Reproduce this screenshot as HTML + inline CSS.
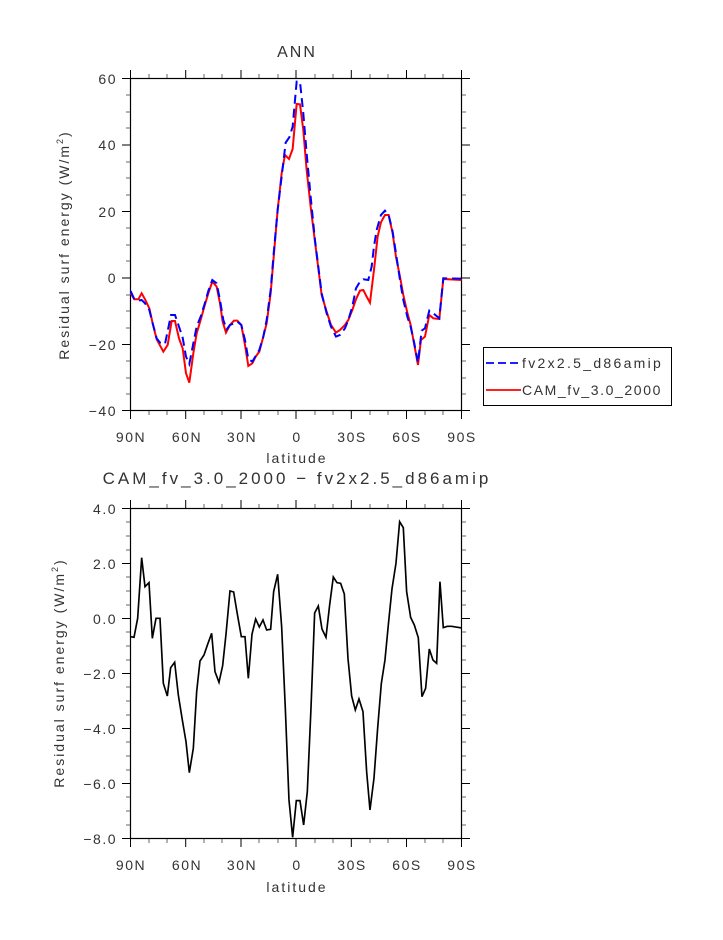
<!DOCTYPE html>
<html><head><meta charset="utf-8"><style>
body{margin:0;background:#fff}
text{font-family:"Liberation Sans",sans-serif;fill:#333}
</style></head><body>
<svg width="723" height="935" xmlns="http://www.w3.org/2000/svg">
<rect width="723" height="935" fill="#fff"/>
<text x="297" y="57" font-size="16" text-anchor="middle" letter-spacing="2">ANN</text>
<rect x="130.5" y="78.5" width="331" height="332" fill="none" stroke="#000" stroke-width="1.2"/>
<g stroke="#000" stroke-width="1">
<path d="M130.5,78v-8M185.7,78v-8M241,78v-8M296,78v-8M351.3,78v-8M406.5,78v-8M461.5,78v-8
M130.5,411v8M185.7,411v8M241,411v8M296,411v8M351.3,411v8M406.5,411v8M461.5,411v8
M130,78.5h-8M130,145h-8M130,211.5h-8M130,278h-8M130,344.5h-8M130,410.5h-8
M462,78.5h8M462,145h8M462,211.5h8M462,278h8M462,344.5h8M462,410.5h8"/>
<path stroke="#666" d="M149,78v-4M167,78v-4M204,78v-4M222,78v-4M259,78v-4M278,78v-4M315,78v-4M333,78v-4M370,78v-4M388,78v-4M425,78v-4M443,78v-4
M149,411v4M167,411v4M204,411v4M222,411v4M259,411v4M278,411v4M315,411v4M333,411v4M370,411v4M388,411v4M425,411v4M443,411v4
M130,95h-4M130,112h-4M130,128h-4M130,162h-4M130,178h-4M130,195h-4M130,228h-4M130,245h-4M130,261h-4M130,295h-4M130,311h-4M130,328h-4M130,361h-4M130,378h-4M130,394h-4
M462,95h4M462,112h4M462,128h4M462,162h4M462,178h4M462,195h4M462,228h4M462,245h4M462,261h4M462,295h4M462,311h4M462,328h4M462,361h4M462,378h4M462,394h4"/>
</g>
<g font-size="14" text-anchor="end" letter-spacing="1.5">
<text x="117" y="84">60</text><text x="117" y="150">40</text><text x="117" y="217">20</text>
<text x="117" y="283">0</text><text x="117" y="350">−20</text><text x="117" y="416">−40</text>
</g>
<g font-size="14" text-anchor="middle" letter-spacing="1.5">
<text x="131" y="442">90N</text><text x="187" y="442">60N</text><text x="242" y="442">30N</text><text x="297" y="442">0</text>
<text x="352" y="442">30S</text><text x="407" y="442">60S</text><text x="462" y="442">90S</text>
<text x="297" y="463" letter-spacing="2">latitude</text>
</g>
<text transform="translate(69,245) rotate(-90)" font-size="14" text-anchor="middle" letter-spacing="2">Residual surf energy (W/m<tspan font-size="9" dy="-6">2</tspan><tspan dy="6">)</tspan></text>
<g transform="translate(100,60) scale(0.3333)" fill="none" stroke-width="6">
<polyline stroke="#f00" points="92,700 103,718 115,718 125,700 135,718 148,745 158,790 170,838 190,875 203,855 215,783 225,783 237,835 248,865 258,940 268,968 280,880 290,820 302,780 313,740 325,700 337,665 350,680 360,730 368,785 378,818 390,795 402,782 412,782 424,795 435,855 445,918 457,910 467,890 478,875 490,830 500,790 512,700 522,580 533,450 545,340 555,285 567,297 578,267 590,132 600,133 610,210 620,330 632,440 645,545 655,625 665,705 680,755 693,795 708,818 720,810 735,795 745,780 757,750 768,718 780,692 790,690 800,710 810,728 822,630 833,530 843,487 855,465 866,465 878,520 888,590 900,650 910,705 922,758 932,795 943,855 954,915 963,840 975,830 988,765 1000,775 1018,777 1030,657 1085,660"/>
<polyline stroke="#00f" stroke-dasharray="27,15" points="92,693 103,718 115,722 125,720 135,730 148,750 158,790 170,835 180,848 195,852 213,765 225,765 237,800 248,833 258,890 268,912 280,850 290,800 302,770 313,735 325,693 337,660 350,670 360,720 370,780 380,808 390,795 402,790 412,785 424,795 435,840 445,897 457,905 467,888 478,870 490,830 500,780 512,690 522,570 533,450 545,350 557,248 568,232 578,200 590,65 600,65 610,160 620,280 632,410 645,540 655,620 665,700 680,760 693,800 708,830 720,825 735,805 745,780 757,740 768,685 780,665 790,658 805,660 815,620 822,560 830,510 843,465 855,452 866,465 878,515 888,580 900,660 910,720 922,770 932,800 943,850 954,908 965,812 975,805 988,752 1000,760 1018,775 1030,655 1085,656"/>
</g>
<rect x="483.5" y="347.5" width="188" height="58" fill="#fff" stroke="#000"/>
<line x1="486" y1="363" x2="521" y2="363" stroke="#00f" stroke-width="1.8" stroke-dasharray="8,4"/>
<line x1="486" y1="390" x2="521" y2="390" stroke="#f00" stroke-width="1.8"/>
<text x="522" y="368" font-size="14" letter-spacing="2.3">fv2x2.5_d86amip</text>
<text x="522" y="395" font-size="14" letter-spacing="1.6">CAM_fv_3.0_2000</text>

<text x="297" y="484" font-size="17" text-anchor="middle" letter-spacing="3">CAM_fv_3.0_2000 − fv2x2.5_d86amip</text>
<rect x="130.5" y="508.5" width="331" height="330" fill="none" stroke="#000" stroke-width="1.2"/>
<g stroke="#000" stroke-width="1">
<path d="M130.5,508v-8M185.7,508v-8M241,508v-8M296,508v-8M351.3,508v-8M406.5,508v-8M461.5,508v-8
M130.5,839v8M185.7,839v8M241,839v8M296,839v8M351.3,839v8M406.5,839v8M461.5,839v8
M130,508.5h-8M130,563.5h-8M130,618.5h-8M130,673.5h-8M130,728.5h-8M130,783.5h-8M130,838.5h-8
M462,508.5h8M462,563.5h8M462,618.5h8M462,673.5h8M462,728.5h8M462,783.5h8M462,838.5h8"/>
<path stroke="#666" d="M149,508v-4M167,508v-4M204,508v-4M222,508v-4M259,508v-4M278,508v-4M315,508v-4M333,508v-4M370,508v-4M388,508v-4M425,508v-4M443,508v-4
M149,839v4M167,839v4M204,839v4M222,839v4M259,839v4M278,839v4M315,839v4M333,839v4M370,839v4M388,839v4M425,839v4M443,839v4
M130,522h-4M130,536h-4M130,550h-4M130,577h-4M130,591h-4M130,605h-4M130,632h-4M130,646h-4M130,660h-4M130,687h-4M130,701h-4M130,715h-4M130,742h-4M130,756h-4M130,770h-4M130,797h-4M130,811h-4M130,825h-4
M462,522h4M462,536h4M462,550h4M462,577h4M462,591h4M462,605h4M462,632h4M462,646h4M462,660h4M462,687h4M462,701h4M462,715h4M462,742h4M462,756h4M462,770h4M462,797h4M462,811h4M462,825h4"/>
</g>
<g font-size="14" text-anchor="end" letter-spacing="1.5">
<text x="117" y="514">4.0</text><text x="117" y="569">2.0</text><text x="117" y="624">0.0</text>
<text x="117" y="679">−2.0</text><text x="117" y="734">−4.0</text><text x="117" y="789">−6.0</text><text x="117" y="844">−8.0</text>
</g>
<g font-size="14" text-anchor="middle" letter-spacing="1.5">
<text x="131" y="870">90N</text><text x="187" y="870">60N</text><text x="242" y="870">30N</text><text x="297" y="870">0</text>
<text x="352" y="870">30S</text><text x="407" y="870">60S</text><text x="462" y="870">90S</text>
<text x="297" y="892" letter-spacing="2">latitude</text>
</g>
<text transform="translate(64,673) rotate(-90)" font-size="14" text-anchor="middle" letter-spacing="2">Residual surf energy (W/m<tspan font-size="9" dy="-6">2</tspan><tspan dy="6">)</tspan></text>
<g transform="translate(100,495) scale(0.3333)" fill="none" stroke="#000" stroke-width="5">
<polyline points="92,425 102,427 113,370 125,188 135,275 147,263 157,430 168,370 180,370 190,565 202,603 212,518 224,502 235,600 247,675 258,740 268,833 280,760 290,590 300,498 312,480 323,448 335,415 345,530 357,562 368,512 378,418 390,288 401,291 412,357 424,425 435,425 445,550 456,418 467,372 478,396 489,375 500,405 512,403 521,290 533,238 545,395 556,640 567,915 578,1027 589,917 600,917 611,990 622,890 633,640 644,354 655,333 666,402 678,427 689,330 700,246 711,263 722,265 733,297 744,490 755,603 766,645 777,612 789,650 800,830 810,945 822,850 833,700 844,566 855,495 866,380 876,282 888,205 899,80 910,98 920,290 932,367 943,390 955,428 966,605 977,580 988,462 999,495 1010,505 1020,260 1030,398 1042,394 1055,394 1066,396 1085,399"/>
</g>
</svg>
</body></html>
